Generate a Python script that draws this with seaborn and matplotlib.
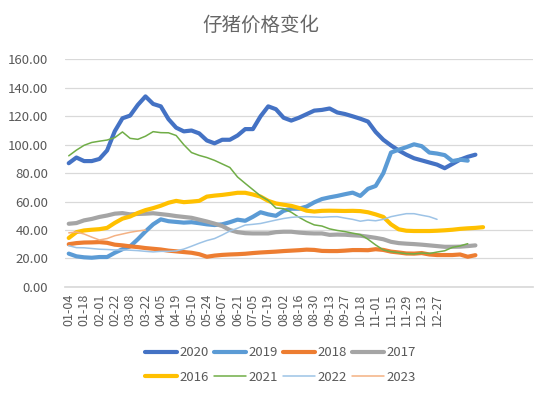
import pandas as pd
import seaborn as sns
import matplotlib.pyplot as plt
from matplotlib.lines import Line2D

# x axis: 61 weekly slots, every 2nd labelled (first 25 only)
date_labels = ['01-04', '01-18', '02-01', '02-22', '03-08', '03-22', '04-05', '04-19',
               '05-10', '05-24', '06-07', '06-21', '07-05', '07-19', '08-02', '08-16',
               '08-30', '09-13', '09-27', '10-18', '11-01', '11-15', '11-29', '12-13', '12-27']
n_weeks = 61

years = ['2020', '2019', '2018', '2017', '2016', '2021', '2022', '2023']

p2020 = [87, 91, 88.5, 88.5, 90, 96, 109.5, 118.6, 120.5, 128, 134, 128.7, 127, 118, 112,
         109.4, 110, 108, 103, 101, 103.5, 103.5, 106.5, 111, 111, 120, 127, 125, 119, 117,
         119, 121.5, 124, 124.5, 125.5, 122.7, 121.6, 120, 118.3, 116.3, 109, 103.5, 99.5,
         96, 93, 90.5, 89, 87.5, 86, 83.5, 86.5, 89.5, 91.5, 93]
p2019 = [23.4, 21.5, 20.8, 20.5, 21, 21, 24, 26.5, 28.5, 33.5, 39, 44, 47.5, 46.2, 45.7,
         45.2, 45.5, 44.8, 44, 43.5, 44, 45.5, 47.3, 46.5, 49.3, 52.5, 51, 50, 53.5, 55, 55,
         56.5, 59.5, 61.8, 63, 64, 65.2, 66.3, 64, 69, 71, 80, 94.5, 96.5, 98.3, 100.3, 99,
         94.5, 93.8, 92.7, 88.5, 89.5, 88.8]
p2018 = [30, 30.8, 31.2, 31.3, 31.5, 31, 29.7, 29.2, 28.5, 28, 27.3, 26.8, 26.3, 25.5, 25,
         24.5, 24, 23, 21.2, 22, 22.5, 22.8, 23, 23.3, 23.8, 24.2, 24.5, 24.8, 25.2, 25.5,
         25.8, 26.2, 26, 25.3, 25.2, 25.2, 25.5, 25.9, 25.9, 25.8, 26.5, 26, 24.8, 24.2, 23.5,
         23.4, 23.8, 22.8, 22.4, 22.4, 22.4, 22.8, 21.2, 22.3]
p2017 = [44.4, 44.9, 46.8, 47.8, 49.2, 50.2, 51.5, 51.9, 51, 51.3, 51.5, 51.8, 51.2, 50.6,
         49.8, 49.2, 48.6, 47.3, 46, 44.5, 42.8, 40, 38.5, 37.8, 37.6, 37.6, 37.6, 38.5, 38.8,
         38.8, 38.2, 37.8, 37.6, 37.6, 36.6, 36.8, 36.7, 36.3, 36, 35.3, 34.5, 33.5, 31.7,
         30.8, 30.4, 30.1, 29.7, 29.2, 28.7, 28.2, 28.2, 28.3, 28.7, 29.2]
p2016 = [34.4, 38.5, 39.7, 40.2, 40.6, 41.5, 45, 48, 49.5, 52, 54, 55.4, 57.1, 59.2, 60.5,
         59.6, 60, 60.5, 63.5, 64.2, 64.7, 65.4, 66.2, 66.2, 65, 63.5, 60.5, 58.7, 57.8, 57,
         55.5, 53.6, 53, 53.5, 53.6, 53.5, 53.4, 53.5, 53.3, 52.5, 51, 49.2, 44, 40.5, 39.5,
         39.3, 39.3, 39.3, 39.5, 39.8, 40.2, 40.8, 41.2, 41.5, 42]
p2021 = [92.2, 96.2, 99.6, 101.6, 102.5, 103.3, 105, 109, 104.5, 103.8, 106, 109.2, 108.5,
         108.4, 106.5, 100, 94.5, 92.5, 91, 89, 86.5, 84, 77.3, 72.8, 68.4, 64, 60.8, 55.5,
         55, 52.5, 49, 46, 43.6, 42.8, 40.8, 39.7, 38.9, 37.8, 36.8, 33.5, 29.5, 26, 24.8,
         24.1, 23.4, 23.2, 23.8, 23.5, 24.5, 25.4, 27.8, 28.8, 30.4]
p2022 = [29, 27.6, 27.5, 27, 26.5, 26.3, 26, 26, 25.8, 25.5, 25, 24.6, 25, 25, 25.3, 26.6,
         28.6, 30.7, 32.6, 34, 36.5, 39.3, 41.3, 43.5, 44, 44.6, 45.8, 47, 48.1, 48.9, 49.3,
         49.4, 49.2, 48.9, 49.3, 49.4, 48.4, 47.5, 46.2, 47, 46.5, 47.5, 49.4, 50.5, 51.5,
         51.5, 50.4, 49.4, 47.5]
p2023 = [38, 38.6, 37.2, 35, 33, 34, 36, 37.2, 38.4, 39.3, 40]

prices = dict(zip(years, [p2020, p2019, p2018, p2017, p2016, p2021, p2022, p2023]))

colors = {'2020': '#4472C4', '2019': '#5B9BD5', '2018': '#ED7D31', '2017': '#A5A5A5',
          '2016': '#FFC000', '2021': '#70AD47', '2022': '#9DC3E6', '2023': '#F4B183'}
widths = {'2020': 3.0, '2019': 3.0, '2018': 3.0, '2017': 3.0,
          '2016': 3.0, '2021': 1.1, '2022': 1.1, '2023': 1.1}

df = pd.concat([pd.DataFrame({'week': range(len(v)), 'price': v, 'year': y})
                for y, v in prices.items()], ignore_index=True)

sns.set_theme(style="white")
plt.rcParams['font.family'] = ['Noto Sans CJK SC', 'DejaVu Sans']
plt.rcParams['lines.solid_capstyle'] = 'round'
plt.rcParams['lines.solid_joinstyle'] = 'round'

fig, ax = plt.subplots(figsize=(5.5, 3.99), dpi=100)
fig.subplots_adjust(left=0.118, right=0.969, top=0.851, bottom=0.281)

sns.lineplot(data=df, x='week', y='price', hue='year', hue_order=years, palette=colors,
             size='year', size_order=years, sizes=widths, legend=False, ax=ax)

grey = '#595959'
ax.set_ylim(0, 160)
ax.set_yticks(range(0, 161, 20))
ax.set_yticklabels([f'{v:.2f}' for v in range(0, 161, 20)], fontsize=9.5, color=grey)
ax.set_xlim(-0.5, n_weeks - 0.5)
ticklabels = [''] * n_weeks
for k, lab in enumerate(date_labels):
    ticklabels[2 * k] = lab
ax.set_xticks(range(n_weeks))
ax.set_xticklabels(ticklabels, rotation=90, fontsize=9, color=grey)
ax.tick_params(axis='x', length=3, width=0.8, color='#D9D9D9', pad=2)
ax.tick_params(axis='y', length=0, pad=12)
ax.set_xlabel('')
ax.set_ylabel('')
ax.grid(axis='y', color='#D9D9D9', linewidth=0.9)
for s in ['left', 'top', 'right']:
    ax.spines[s].set_visible(False)
ax.spines['bottom'].set_color('#D9D9D9')

fig.text(0.475, 0.937, '仔猪价格变化', ha='center', va='center', fontsize=14, color='#666666')

# legend rows: first four years, then the rest (matplotlib fills columns first)
order = [0, 4, 1, 5, 2, 6, 3, 7]
handles = [Line2D([], [], color=colors[years[i]], linewidth=widths[years[i]]) for i in order]
labels = [years[i] for i in order]
fig.legend(handles, labels, loc='center', bbox_to_anchor=(0.51, 0.085), ncol=4,
           frameon=False, fontsize=9.5, handlelength=2.4, handletextpad=0.2,
           columnspacing=0.4, labelspacing=0.9, labelcolor=grey)

fig.savefig('out.png', dpi=100)
